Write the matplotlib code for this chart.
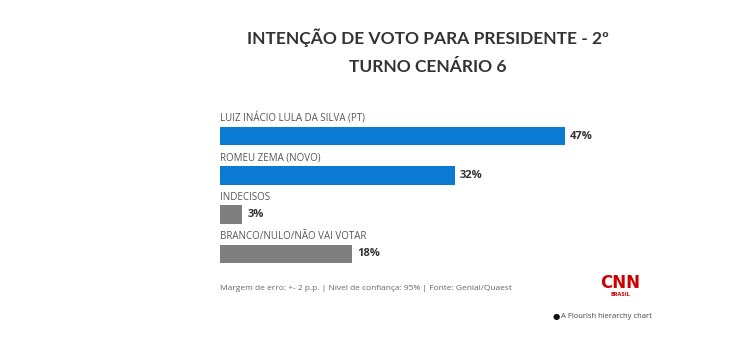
import matplotlib.pyplot as plt

# --------- data ---------
labels = ["LUIZ INÁCIO LULA DA SILVA (PT)", "ROMEU ZEMA (NOVO)", "INDECISOS",
          "BRANCO/NULO/NÃO VAI VOTAR"]
values = [47, 32, 3, 18]
colors = ["#0a7ad3", "#0a7ad3", "#7f7f7f", "#7f7f7f"]

W, H = 751, 337
fig = plt.figure(figsize=(W / 100, H / 100), dpi=100)
fig.patch.set_facecolor("white")

# axes in pixel terms: x from 220 to 720 px, y from 110 to 270 px
ax = fig.add_axes([220 / W, 1 - 270 / H, 500 / W, 160 / H])
ax.set_xlim(0, 500 / 7.34)
ax.set_ylim(3.41, -0.662)
ax.axis("off")

pos = list(range(len(values)))
ax.barh(pos, values, height=0.47, color=colors, align="center")

for i, (lab, v) in enumerate(zip(labels, values)):
    ax.text(0, i - 0.29, lab, ha="left", va="bottom", fontsize=7,
            color="#555555", family="Open Sans")
    ax.text(v + 0.7, i, f"{v}%", ha="left", va="center", fontsize=8,
            fontweight="bold", color="#333333", family="Open Sans")

# --------- titles and footer ---------
fig.text(428 / W, 1 - 38 / H, "INTENÇÃO DE VOTO PARA PRESIDENTE - 2º",
         ha="center", va="center", fontsize=12.5, fontweight="bold",
         color="#333333", family="Lato")
fig.text(428 / W, 1 - 67 / H, "TURNO CENÁRIO 6", ha="center", va="center",
         fontsize=12.5, fontweight="bold", color="#333333", family="Lato")

fig.text(220 / W, 1 - 288 / H,
         "Margem de erro: +- 2 p.p. | Nível de confiança: 95% | Fonte: Genial/Quaest",
         ha="left", va="center", fontsize=6, color="#666666", family="Open Sans")

fig.text(620 / W, 1 - 283 / H, "CNN", ha="center", va="center", fontsize=12,
         fontweight="bold", color="#cc0000", family="Liberation Sans Narrow")
fig.text(620 / W, 1 - 295 / H, "BRASIL", ha="center", va="center", fontsize=3.5,
         fontweight="bold", color="#cc0000", family="DejaVu Sans")

fig.text(556 / W, 1 - 316 / H, "●", ha="center", va="center", fontsize=6,
         color="#111111")
fig.text(561 / W, 1 - 316 / H, "A Flourish hierarchy chart", ha="left",
         va="center", fontsize=5.5, color="#444444", family="Open Sans")

fig.savefig("out.png", dpi=100, facecolor="white")
